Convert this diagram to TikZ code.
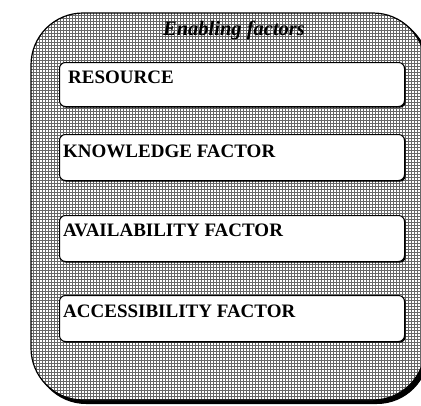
\documentclass[tikz,border=0pt]{standalone}
\usepackage{fontspec}
\setmainfont{Liberation Serif}
\usetikzlibrary{shadows}
\begin{document}
\begin{tikzpicture}[x=1pt,y=-1pt,
  factorbox/.style={draw, line width=1pt, rounded corners=6pt, fill=white,
    minimum width=345pt, inner sep=0pt, anchor=north west,
    drop shadow={shadow xshift=1.2pt, shadow yshift=-1.2pt, fill=black, opacity=1}},
  lbl/.style={font=\bfseries\fontsize{19}{21}\selectfont, inner sep=0pt, anchor=base west},
  ttl/.style={font=\bfseries\itshape\fontsize{20.5}{22}\selectfont, inner sep=0pt, anchor=base}]
\useasboundingbox (0,0) rectangle (421,405);
% outer frame shadow
\fill[black, rounded corners=52pt] (34,16) rectangle (429,404);
\begin{scope}
  \path[clip, rounded corners=52pt] (31,13) rectangle (425,400);
  \fill[white] (0,0) rectangle (430,405);
  \draw[black!60, line width=0.75pt, step=3pt] (30,402) grid (430,12);
\end{scope}
\draw[line width=1.2pt, rounded corners=52pt] (31,13) rectangle (425,400);
\node[ttl] (title) at (234,35) {Enabling factors};
% inner boxes
\node[factorbox, minimum height=44pt] (res) at (59,62) {};
\node[factorbox, minimum height=46pt] (know) at (59,134) {};
\node[factorbox, minimum height=46pt] (avail) at (59,215) {};
\node[factorbox, minimum height=46pt] (access) at (59,295) {};
\node[lbl] (tres) at (68,83) {RESOURCE};
\node[lbl] (tknow) at (63,157) {KNOWLEDGE FACTOR};
\node[lbl] (tavail) at (63,236) {AVAILABILITY FACTOR};
\node[lbl] (taccess) at (63,317) {ACCESSIBILITY FACTOR};
\end{tikzpicture}
\end{document}
